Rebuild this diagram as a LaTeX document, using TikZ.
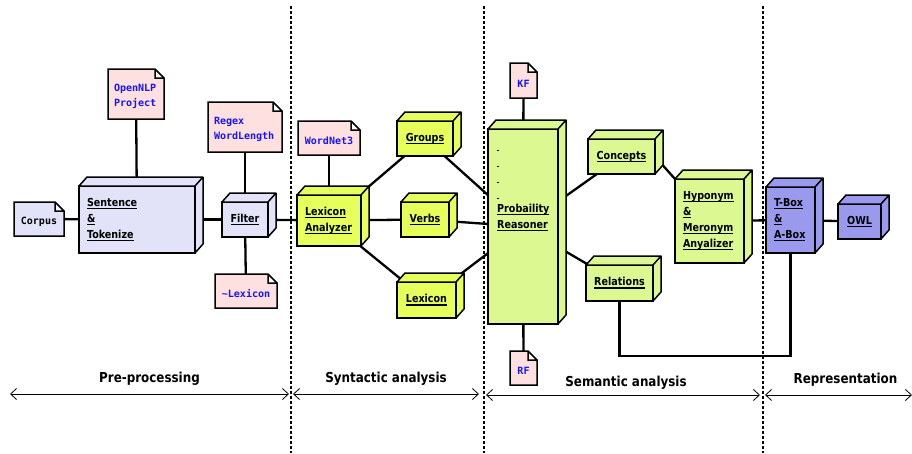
\documentclass[tikz,border=0pt]{standalone}
\usepackage{fontspec}
\setmainfont{DejaVu Sans}[FakeStretch=0.87]
\setmonofont{DejaVu Sans Mono}
\usepackage{tikz}
\usetikzlibrary{arrows.meta}
\usetikzlibrary{backgrounds}
\usetikzlibrary{calc}

\definecolor{notepink}{RGB}{255,224,224}
\definecolor{prepblue}{RGB}{226,226,248}
\definecolor{syntyellow}{RGB}{230,255,90}
\definecolor{semgreen}{RGB}{220,248,145}
\definecolor{repblue}{RGB}{153,153,238}
\definecolor{notetext}{RGB}{20,20,255}

\newcommand{\ulined}[1]{\leavevmode\setbox0\hbox{#1}\rlap{\rule[-2.8pt]{\wd0}{1.2pt}}\box0}

\tikzset{
  boxtext/.style={font=\fontsize{11}{16}\selectfont\bfseries, align=left},
  cubebox/.style={boxtext, draw, fill=#1, line width=1.5pt, outer sep=0pt, inner xsep=8pt, inner ysep=0pt},
  cubeside/.style={draw, line width=1.5pt, line join=round},
  notefile/.style={outer sep=0pt, inner xsep=6pt, inner ysep=0pt, text height=13pt,
    font=\ttfamily\bfseries\fontsize{10}{15}\selectfont, text=notetext, align=left},
  notefold/.style={draw, line width=1.5pt, line join=miter},
  conn/.style={line width=2.3pt},
  sepline/.style={line width=2.5pt, dash pattern=on 2.5pt off 2.5pt},
  phasearrow/.style={{Straight Barb[length=6pt,width=11pt]}-{Straight Barb[length=6pt,width=11pt]}, line width=0.8pt},
  phaselabel/.style={midway, yshift=15pt, font=\fontsize{13.7}{15}\selectfont\bfseries}
}

\begin{document}
\begin{tikzpicture}[x=1pt,y=1pt,yscale=-1,xscale=1]
\useasboundingbox (0,0) rectangle (912,453);

% Pre-processing
\node[notefile, text=black, minimum width=50, minimum height=34] (corpus) at (39,219) {Corpus};
\node[cubebox=prepblue, minimum width=116, minimum height=67, text width=100] (sent) at (137,219.5) {\ulined{Sentence}\\\ulined{\&}\\\ulined{Tokenize}};
\node[notefile, minimum width=56, minimum height=50, text width=44] (opennlp) at (136,94) {OpenNLP\\Project};
\node[cubebox=prepblue, minimum width=46, minimum height=35] (filter) at (245,219.5) {\ulined{Filter}};
\node[notefile, minimum width=74, minimum height=50, text width=62] (regex) at (245,127) {Regex\\WordLength};
\node[notefile, minimum width=62, minimum height=34] (nolex) at (246,291) {\textasciitilde Lexicon};

% Syntactic analysis
\node[cubebox=syntyellow, minimum width=64, minimum height=51, text width=48] (lexana) at (329,220.5) {\ulined{Lexicon}\\\ulined{Analyzer}};
\node[notefile, minimum width=62, minimum height=34] (wordnet) at (329,138) {WordNet3};
\node[cubebox=syntyellow, minimum width=56, minimum height=35] (groups) at (425,138.5) {\ulined{Groups}};
\node[cubebox=syntyellow, minimum width=48, minimum height=35] (verbs) at (425,219.5) {\ulined{Verbs}};
\node[cubebox=syntyellow, minimum width=59, minimum height=36] (lexicon) at (426.5,300) {\ulined{Lexicon}};

% Semantic analysis
\node[cubebox=semgreen, minimum width=70, minimum height=195] (reasoner) at (523,226.5) {};
\node[boxtext, anchor=base west, inner sep=0pt, text width=56] (reasonertxt) at (497,148.5) {\ulined{\,}\\\ulined{\,}\\\ulined{\,}\\\ulined{\,}\\\ulined{Probaility}\\\ulined{Reasoner}};
\node[notefile, minimum width=27, minimum height=35, inner xsep=2pt] (kf) at (523.5,80.5) {KF};
\node[notefile, minimum width=27, minimum height=34, inner xsep=2pt] (rf) at (523.5,368) {RF};
\node[cubebox=semgreen, minimum width=67, minimum height=35] (concepts) at (621.5,156.5) {\ulined{Concepts}};
\node[cubebox=semgreen, minimum width=67, minimum height=36] (relations) at (619.5,283) {\ulined{Relations}};
\node[cubebox=semgreen, minimum width=69, minimum height=84, text width=53] (hyponym) at (709.5,221) {\ulined{Hyponym}\\\ulined{\&}\\\ulined{Meronym}\\\ulined{Anyalizer}};

% Representation
\node[cubebox=repblue, minimum width=49, minimum height=66, text width=33] (tbox) at (790.5,220) {\ulined{T-Box}\\\ulined{\&}\\\ulined{A-Box}};
\node[cubebox=repblue, minimum width=43, minimum height=35] (owl) at (859.5,221.5) {\ulined{OWL}};

% depth of the boxes
\foreach \n/\c in {sent/prepblue, filter/prepblue, lexana/syntyellow, groups/syntyellow, verbs/syntyellow, lexicon/syntyellow, reasoner/semgreen, concepts/semgreen, relations/semgreen, hyponym/semgreen, tbox/repblue, owl/repblue}
  \filldraw[cubeside, fill=\c] (\n.north west) -- ++(8,-9) -| ($(\n.south east)+(8,-9)$) -- (\n.south east) -- (\n.north east) -- cycle (\n.north east) -- ++(8,-9);

\begin{scope}[on background layer]
% note sheets with folded corner
\foreach \n/\c in {corpus/prepblue, opennlp/notepink, regex/notepink, nolex/notepink, wordnet/notepink, kf/notepink, rf/notepink}
  \filldraw[notefold, fill=\c] (\n.south west) -- (\n.north west) -- ($(\n.north east)+(-9,0)$) -- ($(\n.north east)+(0,9)$) -- (\n.south east) -- cycle
    ($(\n.north east)+(-9,0)$) |- ($(\n.north east)+(0,9)$);

\draw[conn] (corpus) -- (sent);
\draw[conn] (opennlp) -- (sent);
\draw[conn] (sent) -- (filter);
\draw[conn] (regex) -- (filter);
\draw[conn] (filter) -- (nolex);
\draw[conn] (filter) -- (lexana);
\draw[conn] (wordnet) -- (lexana);
\draw[conn] (lexana) -- (groups);
\draw[conn] (lexana) -- (verbs);
\draw[conn] (lexana) -- (lexicon);
\draw[conn] (groups) -- (reasoner);
\draw[conn] (verbs) -- (reasoner);
\draw[conn] (lexicon) -- (reasoner);
\draw[conn] (kf) -- (reasoner);
\draw[conn] (reasoner) -- (rf);
\draw[conn] (reasoner) -- (concepts);
\draw[conn] (reasoner) -- (relations);
\draw[conn] (concepts.east) -- (hyponym.north west);
\draw[conn] (hyponym) -- (tbox);
\draw[conn] (tbox) -- (owl);
\draw[conn] (relations.south) -- ++(0,55) -| (tbox.south);
\end{scope}

% phases
\foreach \x in {291,484,763}
  \draw[sepline] (\x,6) -- (\x,453);
\coordinate (p0) at (10,394);
\coordinate (p1) at (289,394);
\coordinate (p2) at (293,394);
\coordinate (p3) at (479,394);
\coordinate (p4) at (486,395);
\coordinate (p5) at (760,395);
\coordinate (p6) at (765,395);
\coordinate (p7) at (912,395);
\draw[phasearrow] (p0) -- node[phaselabel] {Pre-processing} (p1);
\draw[phasearrow] (p2) -- node[phaselabel] {Syntactic analysis} (p3);
\draw[phasearrow] (p4) -- node[phaselabel, yshift=-3pt, xshift=3pt] {Semantic analysis} (p5);
\draw[phasearrow] (p6) -- node[phaselabel, xshift=7pt] {Representation} (p7);
\end{tikzpicture}
\end{document}
